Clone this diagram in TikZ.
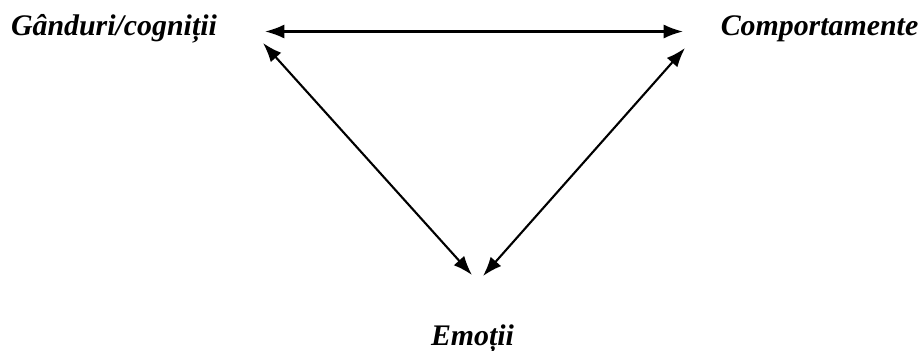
\documentclass[tikz,border=0pt]{standalone}
\usepackage{fontspec}
\setmainfont{Liberation Serif}
\usepackage{tikz}
\usetikzlibrary{arrows.meta,calc}

\tikzset{
  label text/.style={font=\fontsize{17}{20}\selectfont\bfseries\itshape, inner sep=0pt, anchor=base},
  link/.style={{Latex[length=11pt,width=8pt]}-{Latex[length=11pt,width=8pt]}, line width=1.2pt}
}

\begin{document}
\begin{tikzpicture}
                    \useasboundingbox (0,0) rectangle (18.4,7);
                    \node[label text] (gand) at (2.28,6.30) {Gânduri/cogniții};
                    \node[label text] (comp) at (16.39,6.30) {Comportamente};
                    \node[label text] (emo) at (9.45,0.10) {Emoții};
                    \draw[link] ($(gand.base)+(3.02,0.07)$) -- ($(comp.base)+(-2.73,0.07)$);
                    \draw[link] ($(gand.base)+(2.98,-0.16)$) -- ($(emo.base)+(-0.01,1.40)$);
                    \draw[link] ($(comp.base)+(-2.69,-0.26)$) -- ($(emo.base)+(0.21,1.38)$);
                \end{tikzpicture}
\end{document}
